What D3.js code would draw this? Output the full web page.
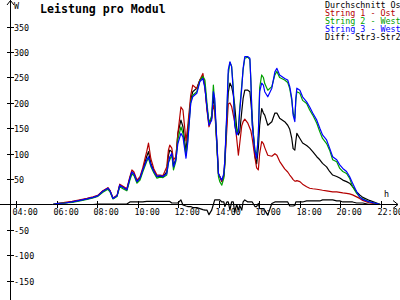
<!DOCTYPE html>
<html><head><meta charset="utf-8">
<script src="https://cdn.jsdelivr.net/npm/d3@7"></script>
<style>body{margin:0;background:#fff}svg{display:block}text{font-family:"DejaVu Sans Mono",monospace}</style>
</head><body><svg id="c" width="400" height="300"></svg>
<script>
const times = [
"05:49","06:01","06:25","06:46","07:09","07:30","07:48","08:02","08:17","08:32",
"08:38","08:47","08:59","09:07","09:19","09:28","09:37","09:43","09:49","09:58",
"10:07","10:15","10:27","10:32","10:39","10:48","10:57","11:06","11:15","11:26",
"11:31","11:35","11:41","11:46","11:53","11:59","12:08","12:14","12:23","12:28",
"12:37","12:43","12:55","13:04","13:13","13:19","13:25","13:31","13:39","13:44",
"13:48","13:54","13:59","14:03","14:09","14:15","14:18","14:24","14:28","14:33",
"14:38","14:43","14:47","14:53","14:58","15:02","15:08","15:12","15:17","15:26",
"15:32","15:35","15:39","15:47","15:52","15:57","16:01","16:07","16:12","16:16",
"16:25","16:37","16:46","16:52","17:00","17:15","17:24","17:30","17:36","17:40",
"17:45","17:48","17:51","18:00","18:08","18:20","18:29","18:38","18:50","18:59",
"19:07","19:19","19:28","19:37","19:49","19:58","20:07","20:18","20:27","20:36",
"20:48","20:57","21:06","21:26","21:47","21:58"];
const durchschnitt = [
0,2,3,5,8,11,14,17,26,32, 27,12,17,38,33,29,52,64,60,45,
52,68,95,104,81,66,55,56,55,64, 97,107,104,76,90,140,166,153,104,140,
206,222,229,245,252,232,190,160,170,212, 192,127,61,55,45,58,88,170,220,239,
232,216,196,150,137,143,183,209,225,225, 222,202,170,95,80,111,156,189,180,176,
156,163,180,180,170,163,156,148,130,110, 107,125,140,130,121,116,111,104,94,88,
81,74,65,58,55,52,48,45,42,35, 25,19,14,8,3,0];
const string1Ost = [
0,2,4,6,9,12,15,18,27,33, 28,13,18,40,35,31,55,68,64,48,
55,72,105,121,90,70,58,58,57,74, 107,117,111,88,94,140,192,186,125,153,
215,235,228,245,258,232,186,153,170,195, 185,120,60,55,45,55,80,150,198,200,
193,176,163,130,97,120,155,163,168,160, 150,145,130,92,72,68,100,124,120,112,
97,95,100,97,85,70,64,58,53,49, 46,46,47,45,40,35,32,31,30,29,
28,27,26,25,25,24,23,22,21,19, 15,12,8,3,1,0];
const string2West = [
0,2,3,4,7,10,13,16,24,30, 25,11,16,35,30,27,48,60,57,42,
48,64,85,91,75,62,52,54,53,58, 84,88,98,68,85,128,153,140,97,125,
202,215,222,244,252,245,200,160,175,235, 200,118,55,45,38,52,80,180,255,280,
272,230,170,140,150,190,235,265,288,290, 285,245,160,108,95,135,230,255,250,238,
225,232,255,262,250,245,240,228,205,180, 170,205,222,219,205,199,186,176,160,143,
130,120,107,88,84,71,65,61,52,35, 22,15,11,5,2,0];
const string3West = [
0,2,3,5,8,11,14,17,26,32, 27,12,17,38,33,29,52,64,60,45,
52,68,88,94,78,65,55,57,55,61, 81,94,101,74,88,120,140,133,91,120,
199,212,219,242,248,229,192,156,166,222, 209,127,61,55,48,61,88,186,265,281,
271,222,156,137,143,183,229,268,291,291, 288,242,156,104,91,137,222,239,235,222,
212,229,261,268,255,248,245,232,209,176, 163,209,229,225,212,202,192,180,166,150,
137,127,111,94,88,78,71,65,55,42, 25,15,10,5,2,0];
const diffStr3Str2 = [
0,0,0,0,0,0,0,1,1,1, 1,1,1,1,1,1,5,5,5,5,
5,5,6,6,6,6,6,6,6,6, 6,6,3,3,3,3,9,-1,-3,-4,
-4,-6,-6,-8,-10,-11,-11,-20,-11,0, 9,9,9,9,5,5,-4,5,5,-11,
5,5,-15,0,-11,-2,-11,5,9,5, 5,5,5,-4,-4,2,-8,-8,-8,-11,
-21,2,5,5,5,5,5,-3,-3,-3, -2,5,5,5,5,7,7,7,7,7,
9,9,9,9,7,7,5,5,5,5, 3,3,3,0,0,0];
const seriesNames = ["Durchschnitt Ost","String 1 - Ost","String 2 - West","String 3 - West","Diff: Str3-Str2"];
const xTickLabels = ["04:00","06:00","08:00","10:00","12:00","14:00","16:00","18:00","20:00","22:00"];
const yTickValues = [350,300,250,200,150,100,50,-50,-100,-150];
const title = "Leistung pro Modul";

const colors = ["#000000","#b40000","#00a000","#0000ff","#000000"];
const seriesData = [durchschnitt,string1Ost,string2West,string3West,diffStr3Str2];

const svg = d3.select("#c");
const toH = s => { const [h,m] = s.split(":").map(Number); return h + m/60; };
const x = d3.scaleLinear().domain([4,22]).range([16,381]);
const y = d3.scaleLinear().domain([-150,350]).range([280.7,26.7]);
const y0 = Math.round(y(0)) + 0.5;

// axes
const ax = svg.append("g").attr("stroke","#000").attr("stroke-width",1).attr("shape-rendering","crispEdges");
ax.append("line").attr("x1",10.5).attr("x2",10.5).attr("y1",0).attr("y2",300);
ax.append("line").attr("x1",0).attr("x2",398).attr("y1",y0).attr("y2",y0);
svg.append("path").attr("d",`M7,5L10.5,0.5L14,5`).attr("fill","none").attr("stroke","#000");
svg.append("path").attr("d",`M393,${y0-4}L398,${y0}L393,${y0+4}`).attr("fill","none").attr("stroke","#000");

yTickValues.forEach(v => {
  const yy = Math.round(y(v)) + 0.5;
  ax.append("line").attr("x1",7).attr("x2",14).attr("y1",yy).attr("y2",yy);
  svg.append("text").attr("x",14).attr("y",yy+3).attr("font-size",8.4).text(String(v));
});
xTickLabels.forEach(lbl => {
  const xx = Math.round(x(toH(lbl))) + 0.5;
  ax.append("line").attr("x1",xx).attr("x2",xx).attr("y1",y0-3.5).attr("y2",y0+3.5);
  svg.append("text").attr("x",xx-4).attr("y",y0+10).attr("font-size",8.4).text(lbl);
});
svg.append("text").attr("x",14).attr("y",8.5).attr("font-size",8.4).text("W");
svg.append("text").attr("x",384).attr("y",197).attr("font-size",8.4).text("h");
svg.append("text").attr("x",40).attr("y",13).attr("font-size",11.6).attr("font-weight","bold").text(title);

// lines
const tH = times.map(toH);
const line = d3.line().x(d => x(d[0])).y(d => y(d[1]));
seriesData.forEach((vals,i) => {
  const pts = vals.map((v,j) => [tH[j], v]);
  svg.append("path").attr("d", line(pts)).attr("fill","none")
    .attr("stroke", colors[i]).attr("stroke-width", 1.2).attr("stroke-linejoin","round");
});

// legend
const lg = svg.append("g");
seriesNames.forEach((n,i) => {
  lg.append("text").attr("x",325).attr("y",7.5 + i*8).attr("font-size",8.4).attr("fill",colors[i]).text(n);
});
</script></body></html>
